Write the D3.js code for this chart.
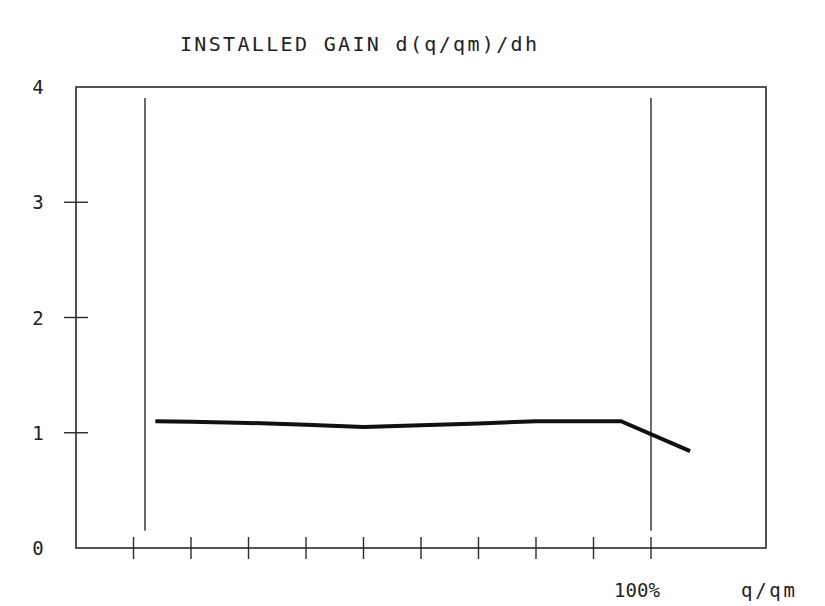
<!DOCTYPE html>
<html><head><meta charset="utf-8">
<script src="https://cdn.jsdelivr.net/npm/d3@7"></script>
<style>body{margin:0;background:#fff}svg{display:block}</style>
</head><body>
<svg id="c" width="825" height="606"></svg>
<script>
const titleText = "INSTALLED GAIN d(q/qm)/dh";
const yTicks = [0, 1, 2, 3, 4];
const yTickLabels = ["0", "1", "2", "3", "4"];
const xTicks = [10, 20, 30, 40, 50, 60, 70, 80, 90, 100];
const xLabel100 = "100%";
const xAxisName = "q/qm";
const limitLines = [12, 100];
const gainX = [13.8, 20, 30, 40, 50, 60, 70, 80, 90, 94.8, 106.8];
const gainY = [1.10, 1.095, 1.085, 1.07, 1.05, 1.065, 1.08, 1.10, 1.10, 1.10, 0.84];

const svg = d3.select("#c");
const x = d3.scaleLinear().domain([0, 120]).range([76, 766]);
const y = d3.scaleLinear().domain([0, 4]).range([548, 87]);
const font = "'DejaVu Sans Mono', monospace";
const ink = "#2a2a2a";
const txt = "#222";

svg.append("text").attr("x", 180).attr("y", 51)
  .attr("font-family", font).attr("font-size", 20)
  .attr("textLength", 357).attr("lengthAdjust", "spacing")
  .attr("fill", txt).text(titleText);

// frame
svg.append("rect").attr("x", x(0)).attr("y", y(4))
  .attr("width", x(120) - x(0)).attr("height", y(0) - y(4))
  .attr("fill", "none").attr("stroke", ink).attr("stroke-width", 1.6);

// y ticks
svg.selectAll(".yt").data(yTicks.slice(1, 4)).enter().append("line")
  .attr("x1", x(0) - 12).attr("x2", x(0) + 12)
  .attr("y1", d => y(d)).attr("y2", d => y(d))
  .attr("stroke", ink).attr("stroke-width", 1.4);
svg.selectAll(".yl").data(yTicks).enter().append("text")
  .attr("x", 38).attr("y", d => y(d) + 7)
  .attr("text-anchor", "middle")
  .attr("font-family", font).attr("font-size", 19).attr("fill", txt)
  .text((d, i) => yTickLabels[i]);

// x ticks
svg.selectAll(".xt").data(xTicks).enter().append("line")
  .attr("x1", d => x(d)).attr("x2", d => x(d))
  .attr("y1", y(0) - 11).attr("y2", y(0) + 11)
  .attr("stroke", ink).attr("stroke-width", 1.4);

svg.append("text").attr("x", 614).attr("y", 597)
  .attr("font-family", font).attr("font-size", 19)
  .attr("textLength", 46).attr("lengthAdjust", "spacing")
  .attr("fill", txt).text(xLabel100);
svg.append("text").attr("x", 741).attr("y", 597)
  .attr("font-family", font).attr("font-size", 19)
  .attr("textLength", 54).attr("lengthAdjust", "spacing")
  .attr("fill", txt).text(xAxisName);

// limit lines
svg.selectAll(".ll").data(limitLines).enter().append("line")
  .attr("x1", d => x(d)).attr("x2", d => x(d))
  .attr("y1", y(3.905)).attr("y2", y(0.15))
  .attr("stroke", ink).attr("stroke-width", 1.4);

// gain curve
const pts = gainX.map((v, i) => [v, gainY[i]]);
svg.append("path").datum(pts)
  .attr("d", d3.line().x(d => x(d[0])).y(d => y(d[1])))
  .attr("fill", "none").attr("stroke", "#111").attr("stroke-width", 4)
  .attr("stroke-linejoin", "round");
</script>
</body></html>
